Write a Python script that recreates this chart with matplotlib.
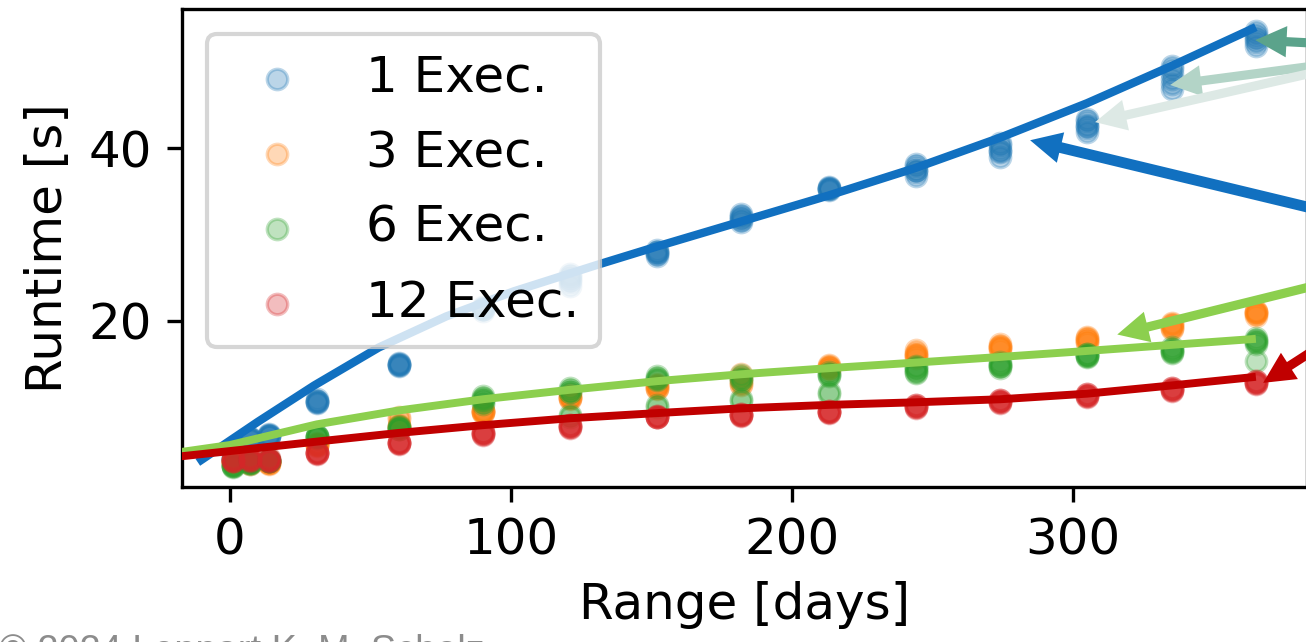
import matplotlib
matplotlib.use("Agg")
import matplotlib.pyplot as plt

# Measured runtimes per query range (days), several repetitions per range
DAYS = [1, 7, 14, 31, 60, 90, 121, 152, 182, 213, 244, 274, 305, 335, 365]

RUNTIME_1_EXEC = [
    [3.9, 4.0, 4.1, 4.0, 3.9, 4.1],
    [6.2, 6.3, 6.4, 6.3, 6.4, 6.3],
    [6.6, 6.7, 6.8, 6.7, 6.8, 6.9],
    [10.5, 10.6, 10.7, 10.6, 10.7, 10.9],
    [14.8, 14.9, 15.0, 14.9, 15.0, 15.1],
    [21.1, 21.3, 21.5, 21.3, 21.4, 21.6],
    [24.0, 24.5, 25.0, 25.4, 24.7, 25.2],
    [27.5, 27.7, 27.9, 28.2, 27.8, 28.0],
    [31.4, 31.7, 32.0, 32.4, 31.8, 32.1],
    [35.1, 35.3, 35.4, 35.5, 35.3, 35.4],
    [36.8, 37.2, 37.5, 37.9, 38.2, 37.4],
    [39.0, 39.5, 39.9, 40.3, 40.6, 39.7],
    [41.9, 42.3, 42.7, 43.1, 43.4, 42.6],
    [46.8, 47.4, 48.0, 48.6, 49.1, 49.5],
    [51.8, 52.3, 52.8, 53.2, 53.6, 52.6],
]

RUNTIME_3_EXEC = [
    [3.5, 3.6, 3.8, 3.6, 3.7, 3.8],
    [3.4, 3.5, 3.7, 3.5, 3.6, 3.7],
    [3.4, 3.5, 3.6, 3.5, 3.6, 3.5],
    [5.5, 5.6, 5.7, 5.6, 5.7, 5.8],
    [8.6, 8.8, 7.7, 7.8, 7.7, 7.9],
    [9.3, 9.4, 9.5, 9.4, 9.5, 9.7],
    [10.9, 11.0, 11.2, 11.0, 11.3, 11.5],
    [12.1, 12.2, 12.4, 12.2, 12.5, 12.7],
    [12.5, 12.7, 12.9, 13.2, 13.5, 13.8],
    [14.3, 14.5, 14.7, 14.5, 14.6, 14.9],
    [15.7, 16.0, 16.3, 16.6, 16.2, 15.9],
    [16.6, 16.8, 17.0, 17.3, 16.9, 17.1],
    [17.4, 17.6, 17.9, 18.1, 17.7, 18.0],
    [19.0, 19.2, 19.5, 19.7, 19.3, 19.6],
    [20.6, 20.8, 21.0, 21.1, 20.9, 21.0],
]

RUNTIME_6_EXEC = [
    [3.1, 3.2, 3.3, 3.2, 3.3, 3.2],
    [3.4, 3.5, 3.6, 3.5, 3.6, 3.5],
    [3.7, 3.8, 3.9, 3.8, 3.9, 3.8],
    [6.4, 6.5, 6.6, 6.5, 6.6, 6.7],
    [7.4, 7.5, 7.7, 7.5, 7.6, 7.8],
    [10.4, 10.6, 10.9, 11.1, 11.3, 10.8],
    [8.9, 9.1, 11.8, 12.0, 12.2, 11.7],
    [10.0, 10.2, 13.2, 13.4, 13.6, 13.1],
    [10.7, 10.9, 13.2, 13.4, 13.7, 13.0],
    [11.5, 11.7, 13.6, 13.8, 14.1, 13.7],
    [13.9, 14.1, 14.4, 14.6, 14.8, 14.3],
    [14.5, 14.7, 15.0, 15.2, 14.9, 14.7],
    [15.8, 15.9, 16.1, 16.2, 16.0, 15.9],
    [16.3, 16.5, 16.7, 16.9, 16.6, 16.4],
    [15.3, 17.3, 17.5, 17.8, 18.0, 17.6],
]

RUNTIME_12_EXEC = [
    [3.7, 3.8, 4.0, 4.1, 3.9, 3.8],
    [3.8, 3.9, 4.1, 4.2, 4.0, 3.9],
    [3.7, 3.8, 4.0, 4.1, 3.9, 3.8],
    [4.6, 4.7, 4.8, 4.7, 4.8, 4.7],
    [5.7, 5.8, 5.9, 5.8, 5.9, 5.8],
    [6.8, 6.9, 7.1, 6.9, 7.0, 7.1],
    [7.6, 7.7, 7.9, 7.7, 7.9, 7.8],
    [8.8, 8.9, 9.0, 8.9, 9.0, 8.9],
    [9.0, 9.1, 9.2, 9.1, 9.2, 9.1],
    [9.3, 9.4, 9.5, 9.4, 9.5, 9.4],
    [9.9, 10.0, 10.2, 10.1, 10.2, 10.0],
    [10.5, 10.6, 10.8, 10.7, 10.8, 10.6],
    [11.2, 11.3, 11.5, 11.4, 11.5, 11.3],
    [11.9, 12.0, 12.2, 12.1, 12.2, 12.0],
    [12.7, 12.8, 13.0, 12.9, 13.0, 12.8],
]

SERIES_LABELS = ["1 Exec.", "3 Exec.", "6 Exec.", "12 Exec."]
SERIES_COLORS = ["tab:blue", "tab:orange", "tab:green", "tab:red"]

# Trend curves
TREND_1_X = [-11.4, 10, 30, 53, 77, 101, 131, 152, 182, 213, 244, 274, 305, 335, 365]
TREND_1_Y = [3.6, 8.3, 12.5, 16.9, 20.5, 23.4, 26.5, 28.6, 31.5, 34.5, 37.7, 41.2, 45.2, 49.5, 54.0]
TREND_6_X = [-17.2, 0, 31, 60, 90, 121, 152, 182, 213, 244, 274, 305, 335, 365]
TREND_6_Y = [4.8, 5.6, 8.0, 9.6, 10.9, 12.0, 13.0, 13.8, 14.5, 15.15, 15.8, 16.5, 17.2, 17.9]
TREND_12_X = [-17.2, 0, 31, 60, 90, 121, 152, 182, 213, 244, 274, 305, 335, 365]
TREND_12_Y = [4.3, 4.9, 6.0, 7.0, 7.9, 8.7, 9.3, 9.85, 10.25, 10.55, 10.9, 11.55, 12.5, 13.5]

# Pointer arrows: tip and tail positions, colour, shaft width
ARROW_TIP_X = [364.8, 334.5, 307.8, 284.7, 315.7, 367.6]
ARROW_TIP_Y = [52.5, 47.3, 43.0, 40.9, 18.4, 12.8]
ARROW_TAIL_X = [430, 430, 430, 430, 430, 430]
ARROW_TAIL_Y = [51.4, 51.4, 52.0, 29.5, 27.6, 25.9]
ARROW_COLORS = ["#5ba38b", "#b3d4c7", "#dde9e5", "#1170c0", "#8ccf4e", "#c00000"]
ARROW_WIDTHS = [2.2, 2.2, 2.2, 2.6, 2.2, 2.2]

plt.rcParams["font.family"] = ["DejaVu Sans"]
plt.rcParams["font.size"] = 12

fig = plt.figure(figsize=(1306 / 300, 642 / 300), dpi=300)
ax = fig.add_axes([181.5 / 1306, 155 / 642, (1307 - 181.5) / 1306, (487 - 9) / 642])

all_series = [RUNTIME_1_EXEC, RUNTIME_3_EXEC, RUNTIME_6_EXEC, RUNTIME_12_EXEC]
for runs, label, color in zip(all_series, SERIES_LABELS, SERIES_COLORS):
    xs, ys = [], []
    for d, vals in zip(DAYS, runs):
        xs.extend([d] * len(vals))
        ys.extend(vals)
    ax.scatter(xs, ys, s=24, color=color, alpha=0.3, linewidths=0.8, label=label, zorder=2)

ax.plot(TREND_1_X, TREND_1_Y, color="#1170c0", lw=2.0, zorder=3, solid_capstyle="butt")
ax.plot(TREND_6_X, TREND_6_Y, color="#8ccf4e", lw=1.9, zorder=3, solid_capstyle="butt")
ax.plot(TREND_12_X, TREND_12_Y, color="#c00000", lw=1.9, zorder=3, solid_capstyle="butt")

ax.set_xlim(-17.2, 383.2)
ax.set_ylim(0.74, 56.1)
ax.set_xticks([0, 100, 200, 300])
ax.set_yticks([20, 40])
ax.set_xlabel("Range [days]")
ax.set_ylabel("Runtime [s]")

ax.legend(loc="upper left", labelspacing=0.54)

for tx, ty, sx, sy, c, w in zip(ARROW_TIP_X, ARROW_TIP_Y, ARROW_TAIL_X, ARROW_TAIL_Y,
                                ARROW_COLORS, ARROW_WIDTHS):
    ax.annotate("", xy=(tx, ty), xytext=(sx, sy), xycoords="data", textcoords="data",
                annotation_clip=False,
                arrowprops=dict(width=w, headwidth=7.5, headlength=7.5, shrink=0,
                                color=c, linewidth=0),
                zorder=6)

fig.text(-0.001, -0.031, "\u00a9 2024 Lennart K. M. Scholz", fontsize=9.1,
         color="#8c8c8c", family=["Liberation Sans", "DejaVu Sans"],
         ha="left", va="baseline")

fig.savefig("out.png", dpi=300)
